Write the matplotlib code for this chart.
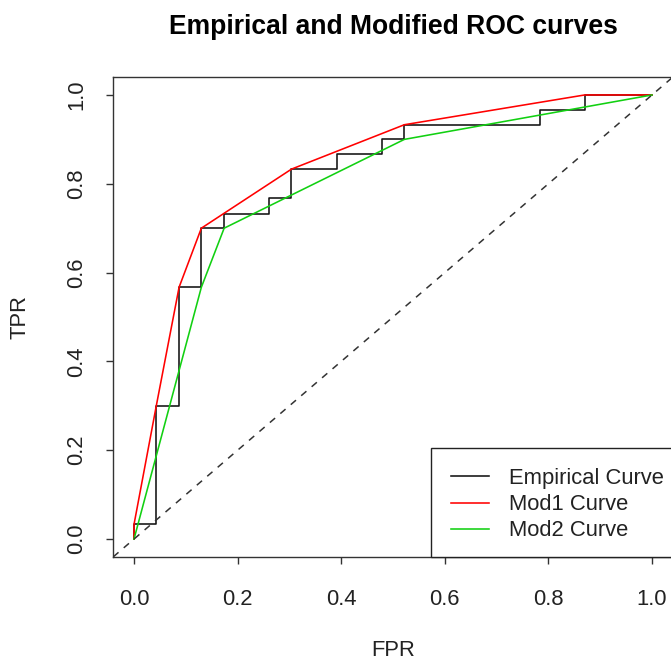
import matplotlib
matplotlib.use("Agg")
import matplotlib.pyplot as plt
from matplotlib.patches import Rectangle
from matplotlib.transforms import IdentityTransform

# Empirical ROC step points (steps-post)
emp_fpr = [0.0, 0.0, 0.043, 0.087, 0.130, 0.174, 0.261, 0.304, 0.391, 0.478, 0.522, 0.783, 0.870, 1.0]
emp_tpr = [0.0, 0.033, 0.300, 0.567, 0.700, 0.733, 0.767, 0.833, 0.867, 0.900, 0.933, 0.967, 1.000, 1.0]

# Mod1 curve vertices
mod1_fpr = [0.0, 0.0, 0.043, 0.087, 0.130, 0.304, 0.522, 0.870, 1.0]
mod1_tpr = [0.0, 0.033, 0.300, 0.567, 0.700, 0.833, 0.933, 1.000, 1.0]

# Mod2 curve vertices
mod2_fpr = [0.0, 0.130, 0.174, 0.522, 1.0]
mod2_tpr = [0.0, 0.567, 0.700, 0.900, 1.0]

diag = [0.0, 1.0]
ticks = [0.0, 0.2, 0.4, 0.6, 0.8, 1.0]
tick_labels = ["0.0", "0.2", "0.4", "0.6", "0.8", "1.0"]

W, H = 671, 661
DPI = 100
plt.rcParams['font.family'] = ['Liberation Sans', 'DejaVu Sans']
px = 72 / DPI
fs = 22 * px  # 22 px

fig = plt.figure(figsize=(W / DPI, H / DPI), dpi=DPI)
left, right, top, bottom = 113.3, 672.7, 77.2, 556.8
aw, ah = right - left, bottom - top
ax = fig.add_axes([left / W, (H - bottom) / H, aw / W, ah / H])

ax.plot(emp_fpr, emp_tpr, drawstyle='steps-post', color='#111111', lw=1.15, label='Empirical Curve')
ax.plot(mod1_fpr, mod1_tpr, color='#FF0000', lw=1.15, label='Mod1 Curve')
ax.plot(mod2_fpr, mod2_tpr, color='#11D011', lw=1.15, label='Mod2 Curve')
ax.axline((diag[0], diag[0]), (diag[1], diag[1]), color='#333333', lw=1.1, linestyle=(0, (4.5, 4.5)))

ax.set_xlim(-0.04, 1.04)
ax.set_ylim(-0.04, 1.04)
ax.set_xticks(ticks)
ax.set_xticklabels(tick_labels)
ax.set_yticks(ticks)
ax.set_yticklabels(tick_labels, rotation=90, va='center')
ax.tick_params(axis='both', direction='out', length=5, width=1, labelsize=fs, colors='#333333', labelcolor='#222222')
ax.tick_params(axis='x', pad=18)
ax.tick_params(axis='y', pad=14)
for sp in ax.spines.values():
    sp.set_color('#333333')
    sp.set_linewidth(1)

ax.set_title('Empirical and Modified ROC curves', fontsize=26.5 * px, fontweight='bold',
             y=(bottom - 27) / ah, va='center', pad=0)

ax.set_xlabel('FPR', fontsize=fs, color='#222222')
ax.xaxis.set_label_coords(0.5, -(650 - bottom) / ah)
ax.xaxis.label.set_va('center')
ax.set_ylabel('TPR', fontsize=fs, color='#222222')
ax.yaxis.set_label_coords(-(left - 20) / aw, 0.5)
ax.yaxis.label.set_va('center')

leg = ax.legend(loc='lower right', fontsize=fs, frameon=False,
                bbox_to_anchor=(1.0, 0.0), borderaxespad=0, handlelength=1.73,
                handletextpad=0.9, borderpad=0.4, labelspacing=0.24)
for t in leg.get_texts():
    t.set_color('#222222')

# position legend rows and draw an R-style frame
fig.canvas.draw()
r = fig.canvas.get_renderer()
texts = leg.get_texts()
bb_last = texts[-1].get_window_extent(r)
cur_center = (bb_last.y0 + bb_last.y1) / 2
target = (H - 531)
shift = (target - cur_center) / ah
leg.set_bbox_to_anchor((1.0, shift), transform=ax.transAxes)
fig.canvas.draw()
bb_first = texts[0].get_window_extent(r)
first_center = (bb_first.y0 + bb_first.y1) / 2
lbb = leg.get_lines()[0].get_window_extent(r)
frame_x0 = lbb.x0 - 20
frame_y1 = first_center + 30
ax_bb = ax.get_window_extent(r)
rect = Rectangle((frame_x0, ax_bb.y0), ax_bb.x1 - frame_x0 + 2, frame_y1 - ax_bb.y0,
                 facecolor='white', edgecolor='#222222', lw=1, zorder=4.5, clip_on=False)
rect.set_transform(IdentityTransform())
ax.add_artist(rect)
leg.set_zorder(6)

fig.savefig('out.png', dpi=DPI)
